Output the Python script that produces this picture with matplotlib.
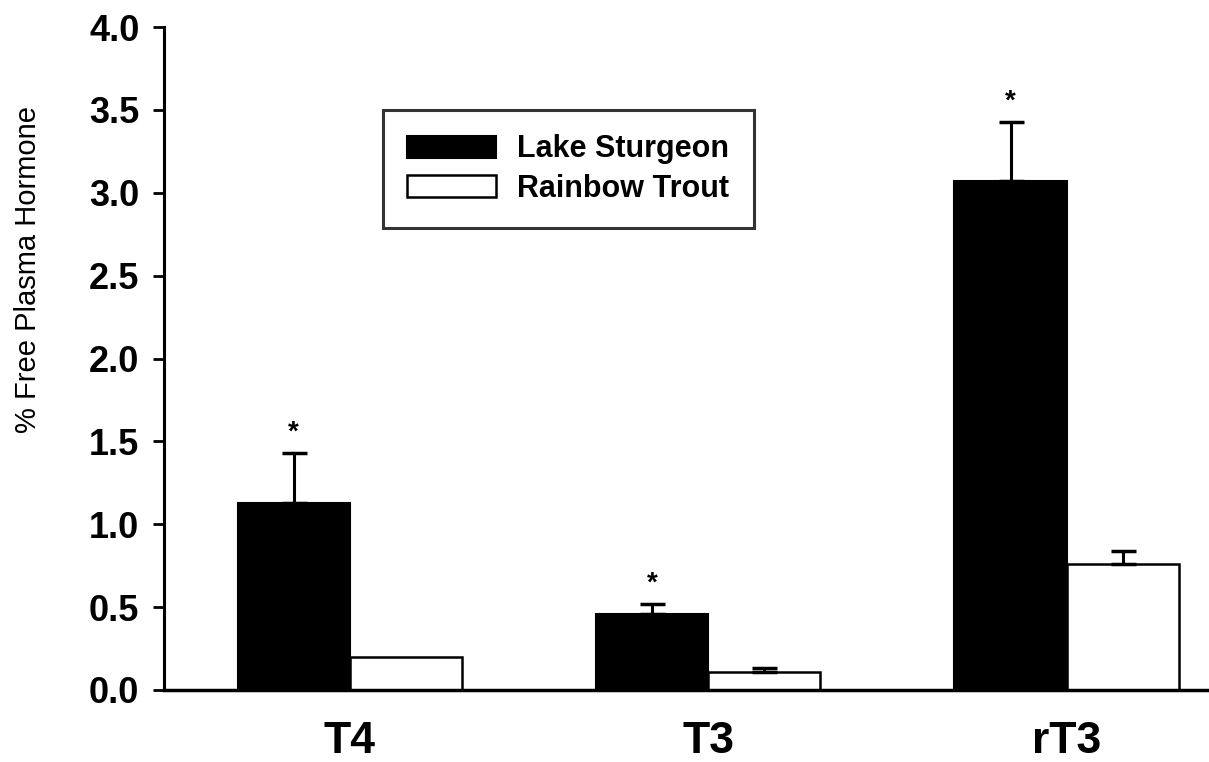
import numpy as np
import matplotlib.pyplot as plt

# Free plasma thyroid hormone, % of total (mean + SE)
hormones = ["T4", "T3", "rT3"]
sturgeon_mean = [1.13, 0.46, 3.07]
sturgeon_se = [0.30, 0.06, 0.36]
trout_mean = [0.20, 0.11, 0.76]
trout_se = [0.0, 0.02, 0.08]
significant = [True, True, True]

plt.rcParams['font.family'] = ['Liberation Sans', 'DejaVu Sans']

fig = plt.figure(figsize=(12.09, 7.62), dpi=100)
ax = fig.add_axes([0.136, 0.0945, 0.864, 0.870])

x = np.arange(len(hormones))
w = 0.313

ax.bar(x - w / 2, sturgeon_mean, w, color="black", edgecolor="black",
       linewidth=1.5, label="Lake Sturgeon", zorder=2)
ax.bar(x + w / 2, trout_mean, w, color="white", edgecolor="black",
       linewidth=1.8, label="Rainbow Trout", zorder=2)


def upper_err(xpos, means, ses):
    # skip groups without a visible error bar
    xpos = np.asarray(xpos)
    means = np.asarray(means)
    ses = np.asarray(ses)
    keep = ses > 0
    ax.errorbar(xpos[keep], means[keep],
                yerr=[np.zeros(keep.sum()), ses[keep]],
                fmt="none", ecolor="black", elinewidth=2.2, capsize=9,
                capthick=2.5, zorder=3)


upper_err(x - w / 2, sturgeon_mean, sturgeon_se)
upper_err(x + w / 2, trout_mean, trout_se)

for xi, m, s, sig in zip(x, sturgeon_mean, sturgeon_se, significant):
    if sig:
        ax.text(xi - w / 2, m + s + 0.12, "*", ha="center", va="center",
                fontsize=20, fontweight="bold")

ax.set_xlim(-0.517, 2.397)
ax.set_ylim(0, 4.0)
yt = np.arange(0, 4.01, 0.5)
ax.set_yticks(yt)
ax.set_yticklabels([f"{v:.1f}" for v in yt], fontsize=26, fontweight="bold")
ax.set_xticks(x)
ax.set_xticklabels(hormones, fontsize=32, fontweight="bold")
ax.tick_params(axis="x", length=0, pad=22)
ax.tick_params(axis="y", direction="out", length=8, width=2, pad=10)

ax.set_ylabel("% Free Plasma Hormone", fontsize=21)
ax.yaxis.set_label_coords(-0.117, 0.635)

for side in ["top", "right"]:
    ax.spines[side].set_visible(False)
ax.spines["left"].set_linewidth(2.2)
ax.spines["bottom"].set_linewidth(2.5)

leg = ax.legend(loc="upper left", bbox_to_anchor=(0.209, 0.875),
                borderaxespad=0, fancybox=False, frameon=True,
                handlelength=2.9, handleheight=0.75, handletextpad=0.7,
                borderpad=0.8, labelspacing=0.3,
                prop={"size": 22, "weight": "bold"})
leg.get_frame().set_edgecolor("black")
leg.get_frame().set_linewidth(2.2)

fig.savefig("out.png", dpi=100)
